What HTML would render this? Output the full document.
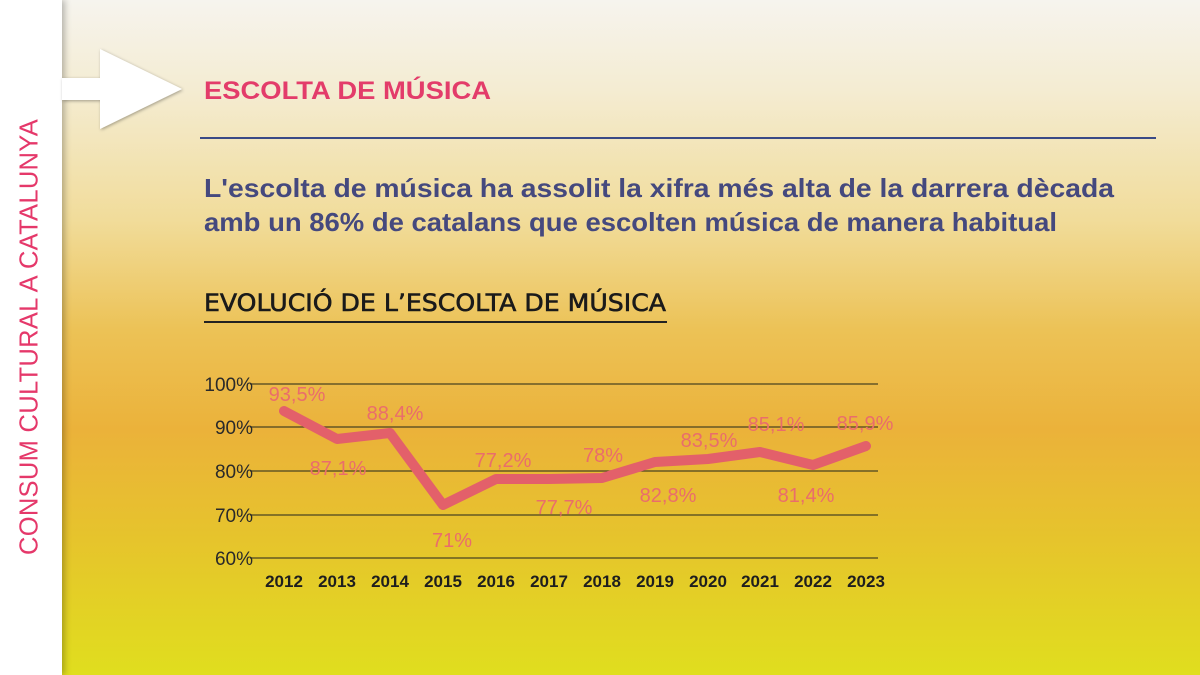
<!DOCTYPE html>
<html><head><meta charset="utf-8"><style>
body{margin:0;width:1200px;height:675px;overflow:hidden;font-family:"Liberation Sans",sans-serif}
.bg{position:absolute;left:0;top:0;width:1200px;height:675px;background:linear-gradient(180deg,#f6f4ee 0px,#f4ecd2 90px,#f1dc9a 220px,#ecc256 330px,#ebb23a 430px,#e6c42c 540px,#e0de1e 675px)}
.strip{position:absolute;left:0;top:0;width:62px;height:675px;background:#fff;box-shadow:3px 0 6px rgba(0,0,0,.25)}
.vt{position:absolute;left:30px;top:337px;transform:translate(-50%,-50%) rotate(-90deg);white-space:nowrap;color:#e5386a;font-size:25.5px;letter-spacing:0.3px}
</style></head><body>
<div class="bg"></div>
<div class="strip"></div>
<div class="vt">CONSUM CULTURAL A CATALUNYA</div>
<svg width="1200" height="675" style="position:absolute;left:0;top:0">
<defs><filter id="sh"><feDropShadow dx="1" dy="1" stdDeviation="1.5" flood-opacity=".35"/></filter></defs>
<polygon points="62,78 100,78 100,49 182,89 100,129 100,100 62,100" fill="#fff" filter="url(#sh)"/>
<text x="204" y="99" font-size="25" font-weight="bold" fill="#e33c6a" font-family="Liberation Sans" textLength="287" lengthAdjust="spacingAndGlyphs">ESCOLTA DE MÚSICA</text>
<line x1="200" y1="138" x2="1156" y2="138" stroke="#3a4a86" stroke-width="2"/>
<text x="204" y="197" font-size="26" font-weight="bold" fill="#45497e" font-family="Liberation Sans" textLength="910" lengthAdjust="spacingAndGlyphs">L'escolta de música ha assolit la xifra més alta de la darrera dècada</text>
<text x="204" y="231" font-size="26" font-weight="bold" fill="#45497e" font-family="Liberation Sans" textLength="853" lengthAdjust="spacingAndGlyphs">amb un 86% de catalans que escolten música de manera habitual</text>
<text x="204" y="311" font-size="24" fill="#1a1a1a" stroke="#1a1a1a" stroke-width="0.6" font-family="DejaVu Sans" textLength="462" lengthAdjust="spacingAndGlyphs">EVOLUCIÓ DE L’ESCOLTA DE MÚSICA</text>
<line x1="204" y1="322" x2="667" y2="322" stroke="#222" stroke-width="2"/>
<g stroke="#4a4320" stroke-width="1.2">
<line x1="250" y1="384" x2="878" y2="384"/><line x1="250" y1="427" x2="878" y2="427"/><line x1="250" y1="471" x2="878" y2="471"/><line x1="250" y1="515" x2="878" y2="515"/><line x1="250" y1="558" x2="878" y2="558"/>
</g>
<g font-size="19" fill="#2a2a2a" font-family="Liberation Sans" text-anchor="end">
<text x="253" y="391">100%</text><text x="253" y="434">90%</text><text x="253" y="478">80%</text><text x="253" y="522">70%</text><text x="253" y="565">60%</text>
</g>
<polyline fill="none" stroke="#e3606a" stroke-width="10" stroke-linejoin="round" stroke-linecap="round" points="284,411 337,439 390,433 443,505 496,479 549,479 602,478 655,462 708,459 760,452 813,465 866,446"/>
<g font-size="17" font-weight="bold" fill="#1e1e1e" font-family="Liberation Sans" text-anchor="middle">
<text x="284" y="587">2012</text><text x="337" y="587">2013</text><text x="390" y="587">2014</text><text x="443" y="587">2015</text><text x="496" y="587">2016</text><text x="549" y="587">2017</text><text x="602" y="587">2018</text><text x="655" y="587">2019</text><text x="708" y="587">2020</text><text x="760" y="587">2021</text><text x="813" y="587">2022</text><text x="866" y="587">2023</text>
</g>
<g font-size="20" fill="#ea6d6b" font-family="Liberation Sans" text-anchor="middle">
<text x="297" y="401">93,5%</text><text x="338" y="475">87,1%</text><text x="395" y="420">88,4%</text><text x="452" y="547">71%</text><text x="503" y="467">77,2%</text><text x="564" y="514">77,7%</text><text x="603" y="462">78%</text><text x="668" y="502">82,8%</text><text x="709" y="447">83,5%</text><text x="776" y="431">85,1%</text><text x="806" y="502">81,4%</text><text x="865" y="430">85,9%</text>
</g>
</svg>
</body></html>
